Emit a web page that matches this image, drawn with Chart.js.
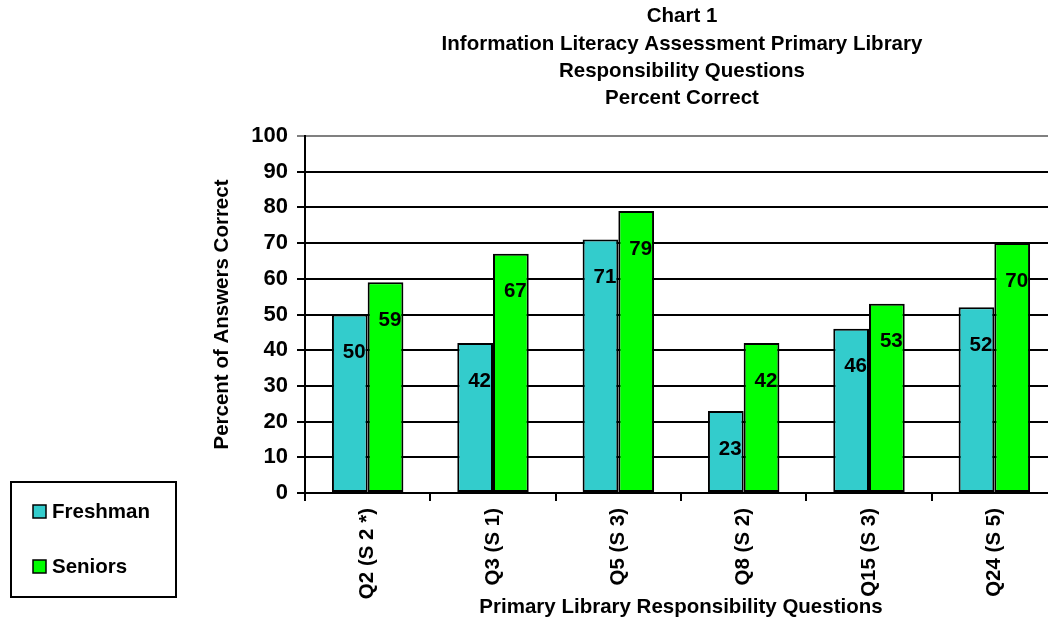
<!DOCTYPE html>
<html>
<head>
<meta charset="utf-8">
<script src="https://cdn.jsdelivr.net/npm/chart.js@4/dist/chart.umd.min.js"></script>
<style>
html,body{margin:0;padding:0;background:#fff;overflow:hidden;}
#wrap{position:relative;width:1060px;height:620px;}
</style>
</head>
<body>
<div id="wrap"><canvas id="c" width="1060" height="620"></canvas></div>
<script>
const titleLines = ['Chart 1', 'Information Literacy Assessment Primary Library', 'Responsibility Questions', 'Percent Correct'];
const categories = ['Q2 (S 2 *)', 'Q3 (S 1)', 'Q5 (S 3)', 'Q8 (S 2)', 'Q15 (S 3)', 'Q24 (S 5)'];
const seriesNames = ['Freshman', 'Seniors'];
const freshman = [50, 42, 71, 23, 46, 52];
const seniors = [59, 67, 79, 42, 53, 70];
const yMin = 0, yMax = 100, yStep = 10;
const xTitle = 'Primary Library Responsibility Questions';
const yTitle = 'Percent of Answers Correct';

const FONT = "'Liberation Sans', Arial, sans-serif";
const colors = ['#33CCCC', '#00FF00'];

const titlePlugin = {
  id: 'customTitle',
  afterDraw(chart) {
    const ctx = chart.ctx;
    const ca = chart.chartArea;
    const cx = (ca.left + ca.right) / 2 + 1;
    ctx.save();
    ctx.font = 'bold 20.5px ' + FONT;
    ctx.fillStyle = '#000';
    ctx.textAlign = 'center';
    ctx.textBaseline = 'middle';
    titleLines.forEach((t, i) => ctx.fillText(t, cx, 16.5 + i * 27.4));
    ctx.restore();
  }
};

const valueLabels = {
  id: 'valueLabels',
  afterDatasetsDraw(chart) {
    const ctx = chart.ctx;
    ctx.save();
    ctx.font = 'bold 20.5px ' + FONT;
    ctx.fillStyle = '#000';
    ctx.textAlign = 'right';
    ctx.textBaseline = 'middle';
    chart.data.datasets.forEach((ds, i) => {
      const meta = chart.getDatasetMeta(i);
      meta.data.forEach((el, j) => {
        ctx.fillText(String(ds.data[j]), el.x + el.width / 2 - 2, el.y + 38);
      });
    });
    ctx.restore();
  }
};

const boxLegend = {
  id: 'boxLegend',
  afterDraw(chart) {
    const ctx = chart.ctx;
    ctx.save();
    ctx.lineWidth = 2;
    ctx.strokeStyle = '#000';
    ctx.strokeRect(11, 482, 165, 115);
    ctx.font = 'bold 20.5px ' + FONT;
    ctx.textAlign = 'left';
    ctx.textBaseline = 'middle';
    chart.data.datasets.forEach((ds, i) => {
      const cy = 511 + i * 55;
      ctx.fillStyle = ds.backgroundColor;
      ctx.fillRect(33, cy - 6, 13, 13);
      ctx.lineWidth = 1.5;
      ctx.strokeRect(33, cy - 6, 13, 13);
      ctx.fillStyle = '#000';
      ctx.fillText(ds.label, 52, cy + 1);
    });
    ctx.restore();
  }
};

new Chart(document.getElementById('c'), {
  type: 'bar',
  data: {
    labels: categories,
    datasets: [
      { label: seriesNames[0], data: freshman, backgroundColor: colors[0], borderColor: '#000', borderWidth: 2, borderSkipped: false },
      { label: seriesNames[1], data: seniors, backgroundColor: colors[1], borderColor: '#000', borderWidth: 2, borderSkipped: false }
    ]
  },
  options: {
    responsive: false,
    animation: false,
    devicePixelRatio: 1,
    layout: { padding: { top: 136, left: 200, right: 3, bottom: 0 } },
    plugins: { legend: { display: false }, title: { display: false }, tooltip: { enabled: false } },
    datasets: { bar: { categoryPercentage: 0.57, barPercentage: 1 } },
    scales: {
      x: {
        afterFit(s) { s.height = 127; },
        grid: { display: true, drawOnChartArea: false, drawTicks: true, tickLength: 8, color: '#000', lineWidth: 2, offset: true },
        border: { display: true, color: '#000', width: 2 },
        ticks: { color: '#000', font: { family: FONT, size: 20.5, weight: 'bold' }, minRotation: 90, maxRotation: 90, padding: 7, autoSkip: false },
        title: { display: true, text: xTitle, color: '#000', font: { family: FONT, size: 20.5, weight: 'bold' }, padding: { top: 0, bottom: 0 } }
      },
      y: {
        min: yMin, max: yMax,
        afterFit(s) { s.width = 105; },
        grid: { color: (c) => (c.tick && c.tick.value === yMax ? '#808080' : '#000'), lineWidth: 2, tickLength: 8 },
        border: { display: true, color: '#000', width: 2 },
        ticks: { stepSize: yStep, color: '#000', font: { family: FONT, size: 22, weight: 'bold' }, padding: 9 },
        title: { display: true, text: yTitle, color: '#000', font: { family: FONT, size: 20.5, weight: 'bold' }, padding: { top: 10, bottom: 0 } }
      }
    }
  },
  plugins: [titlePlugin, valueLabels, boxLegend]
});
</script>
</body>
</html>
